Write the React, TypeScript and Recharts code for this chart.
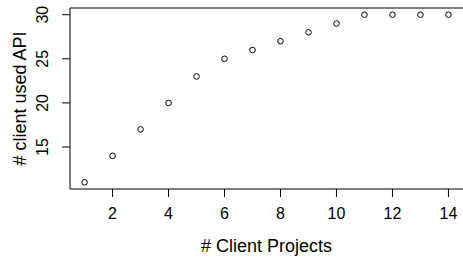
import { ScatterChart, Scatter, XAxis, YAxis, ReferenceLine, Label } from "recharts";

const projects = [1, 2, 3, 4, 5, 6, 7, 8, 9, 10, 11, 12, 13, 14];
const clientsUsingApi = [11, 14, 17, 20, 23, 25, 26, 27, 28, 29, 30, 30, 30, 30];
const xTicks = [2, 4, 6, 8, 10, 12, 14];
const yTicks = [15, 20, 25, 30];

const data = projects.map((p, i) => ({ x: p, y: clientsUsingApi[i] }));

const FONT = "'Liberation Sans', Arial, Helvetica, sans-serif";

// R-style extended range (4% each side)
const pad = (lo: number, hi: number): [number, number] => {
  const d = (hi - lo) * 0.04;
  return [lo - d, hi + d];
};
const xDomain = pad(Math.min(...projects), Math.max(...projects));
const yDomain = pad(Math.min(...clientsUsingApi), Math.max(...clientsUsingApi));

const YTick = ({ x, y, payload }: any) => (
  <text
    x={x}
    y={y}
    transform={`rotate(-90 ${x} ${y})`}
    textAnchor="middle"
    fontSize={16}
    fontFamily={FONT}
    fill="#000"
  >
    {payload.value}
  </text>
);

const YTitle = ({ viewBox }: any) => {
  const cx = viewBox.x + 26;
  const cy = viewBox.y + viewBox.height / 2;
  return (
    <text
      x={cx}
      y={cy}
      transform={`rotate(-90 ${cx} ${cy})`}
      textAnchor="middle"
      fontSize={18}
      fontFamily={FONT}
      fill="#000"
    >
      # client used API
    </text>
  );
};

const OpenCircle = ({ cx, cy }: any) => (
  <circle cx={cx} cy={cy} r={2.8} fill="none" stroke="#000" strokeWidth={1} />
);

export default function App() {
  return (
    <div style={{ position: "absolute", left: 0, top: 0, background: "#fff" }}>
      <ScatterChart
        width={463}
        height={261}
        margin={{ top: 8, right: 0, bottom: 0, left: 0 }}
      >
        <XAxis
          type="number"
          dataKey="x"
          domain={xDomain}
          ticks={xTicks}
          allowDataOverflow
          height={72}
          tickSize={8}
          tickMargin={11}
          axisLine={{ stroke: "#000" }}
          tickLine={{ stroke: "#000" }}
          tick={{ fontSize: 16, fontFamily: FONT, fill: "#000" }}
        >
          <Label
            value="# Client Projects"
            position="insideBottom"
            offset={9}
            style={{ fontSize: 18, fontFamily: FONT, fill: "#000" }}
          />
        </XAxis>
        <YAxis
          type="number"
          dataKey="y"
          domain={yDomain}
          ticks={yTicks}
          allowDataOverflow
          width={70}
          tickSize={8}
          tickMargin={14}
          axisLine={{ stroke: "#000" }}
          tickLine={{ stroke: "#000" }}
          tick={<YTick />}
        >
          <Label content={<YTitle />} />
        </YAxis>
        <ReferenceLine y={yDomain[1]} stroke="#000" ifOverflow="visible" />
        <Scatter data={data} shape={<OpenCircle />} isAnimationActive={false} />
      </ScatterChart>
    </div>
  );
}
